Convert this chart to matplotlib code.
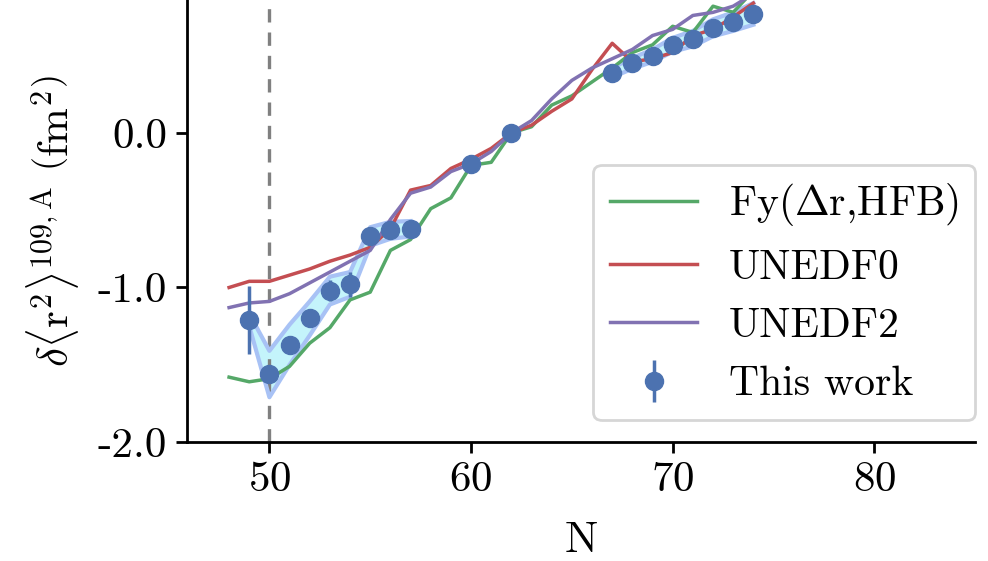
import matplotlib
matplotlib.use('Agg')
import matplotlib.pyplot as plt
import numpy as np

plt.rcParams['font.family'] = 'serif'
plt.rcParams['font.serif'] = ['cmr10', 'DejaVu Serif']
plt.rcParams['mathtext.fontset'] = 'cm'
plt.rcParams['axes.formatter.use_mathtext'] = True
plt.rcParams['axes.unicode_minus'] = False

# measured isotope shifts relative to N=62
n_exp = [49, 50, 51, 52, 53, 54, 55, 56, 57, 60, 62, 67, 68, 69, 70, 71, 72, 73, 74]
dr2_exp = [-1.21, -1.56, -1.37, -1.20, -1.02, -0.98, -0.67, -0.63, -0.62, -0.20, 0.0,
           0.39, 0.45, 0.50, 0.57, 0.61, 0.68, 0.72, 0.77]
err_stat = [0.22, 0.02, 0.02, 0.02, 0.07, 0.08, 0.03, 0.04, 0.02, 0.02, 0.0,
            0.02, 0.02, 0.02, 0.02, 0.02, 0.02, 0.02, 0.02]
err_sys = [0.04, 0.15, 0.13, 0.11, 0.09, 0.08, 0.06, 0.055, 0.05, np.nan, np.nan,
           0.03, 0.035, 0.04, 0.045, 0.05, 0.055, 0.06, 0.07]

# theory curves
n_th = list(range(48, 75))
fy_hfb = [-1.58, -1.61, -1.59, -1.51, -1.36, -1.26, -1.08, -1.03, -0.76, -0.69, -0.49,
          -0.42, -0.21, -0.19, 0.0, 0.04, 0.18, 0.24, 0.33, 0.42, 0.52, 0.57, 0.69,
          0.65, 0.82, 0.78, 0.92]
unedf0 = [-1.00, -0.96, -0.96, -0.92, -0.88, -0.83, -0.79, -0.74, -0.62, -0.37, -0.34,
          -0.23, -0.17, -0.10, 0.0, 0.05, 0.14, 0.22, 0.41, 0.58, 0.46, 0.48, 0.52,
          0.63, 0.67, 0.75, 0.84]
unedf2 = [-1.13, -1.10, -1.09, -1.04, -0.97, -0.90, -0.83, -0.76, -0.56, -0.39, -0.35,
          -0.25, -0.20, -0.12, 0.0, 0.08, 0.22, 0.34, 0.42, 0.48, 0.54, 0.63, 0.67,
          0.76, 0.78, 0.82, 0.90]

c_blue = '#4c72b0'
c_green = '#55a868'
c_red = '#c44e52'
c_purple = '#8172b2'

fig = plt.figure(figsize=(9.88, 5.61), dpi=100)
ax = fig.add_axes([0.189, 0.212, 0.798, 0.788])

x = np.array(n_exp, dtype=float)
y = np.array(dr2_exp)
s = np.array(err_sys)
ax.fill_between(x, y - s, y + s, color='#c4f4fb', lw=0, zorder=1)
ax.plot(x, y + s, color='#a8c2f5', lw=3, zorder=1.5)
ax.plot(x, y - s, color='#a8c2f5', lw=3, zorder=1.5)

ax.axvline(50, color='#808080', ls=(0, (4, 3)), lw=2.4, zorder=1)

ax.plot(n_th, fy_hfb, color=c_green, lw=2.5, label=r'Fy($\Delta$r,HFB)', zorder=2)
ax.plot(n_th, unedf0, color=c_red, lw=2.5, label='UNEDF0', zorder=2)
ax.plot(n_th, unedf2, color=c_purple, lw=2.5, label='UNEDF2', zorder=2)
ax.errorbar(n_exp, dr2_exp, yerr=err_stat, fmt='o', color=c_blue, ms=13,
            elinewidth=2.5, capsize=0, label='This work', zorder=3)

ax.set_xlim(45.9, 85.0)
ax.set_ylim(-2.0, 0.86)
ax.set_xticks([50, 60, 70, 80])
ax.set_yticks([-2.0, -1.0, 0.0])
ax.set_yticklabels(['-2.0', '-1.0', '0.0'])
ax.tick_params(labelsize=31, width=2, length=8, pad=6)
for side in ['top', 'right']:
    ax.spines[side].set_visible(False)
for side in ['left', 'bottom']:
    ax.spines[side].set_linewidth(2)

ax.set_xlabel('N', fontsize=32, labelpad=16)
ax.set_ylabel(r'$\delta\langle\mathrm{r}^2\rangle^{109,\mathrm{A}}$ $\left(\mathrm{fm}^2\right)$',
              fontsize=31, labelpad=12)

leg = ax.legend(loc='lower right', bbox_to_anchor=(1.0, 0.05), borderaxespad=0,
                fontsize=30, handlelength=2.1, handletextpad=0.75, labelspacing=0.5,
                frameon=True, fancybox=True)
leg.get_frame().set_edgecolor('#cccccc')
leg.get_frame().set_linewidth(2)

fig.savefig('out.png', dpi=100)
